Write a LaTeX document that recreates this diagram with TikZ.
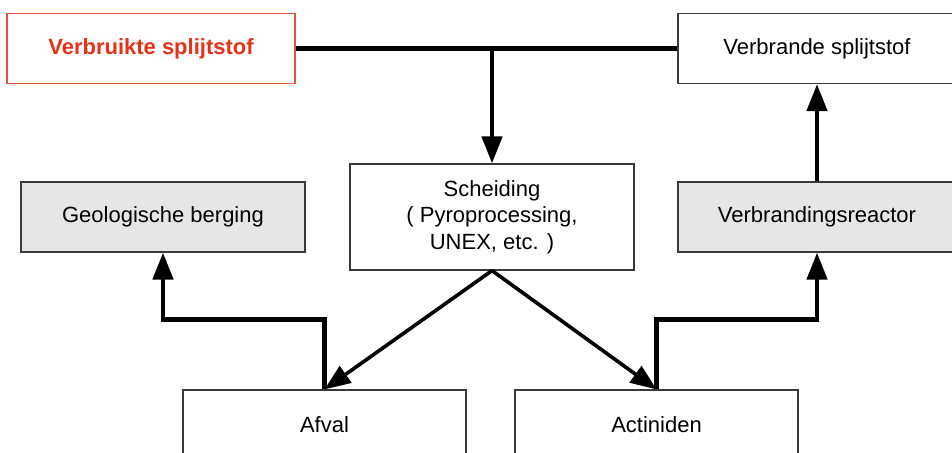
\documentclass[tikz,border=0pt]{standalone}
\usepackage{fontspec}
\setmainfont{Liberation Sans}
\usetikzlibrary{arrows.meta,positioning,calc}
\definecolor{ink}{HTML}{000000}
\definecolor{boxline}{HTML}{3A3A3A}
\definecolor{spentred}{HTML}{E5331A}
\definecolor{plantgray}{HTML}{E6E6E6}
\tikzset{
  stage/.style={draw=boxline,fill=white,line width=0.6pt,align=center,
                inner sep=2pt,font=\fontsize{11}{13.3}\selectfont,
                minimum width=142pt,minimum height=35pt},
  plant/.style={stage,fill=plantgray},
  spentbox/.style={stage,draw=spentred!85,text=spentred,
                   font=\fontsize{11}{13.3}\selectfont\bfseries},
  trunk/.style={line width=2.2pt,draw=ink},
  flow/.style={-{Triangle[length=13.5pt,width=10pt]},line width=2.2pt,
               draw=ink},
  splitflow/.style={-{Triangle[length=13pt,width=10pt]},line width=1.8pt,
                    draw=ink}
}

\begin{document}
\begin{tikzpicture}[x=0.5pt,y=-0.5pt]
    \useasboundingbox (0,0) rectangle (952,453);
    % top row
    \node[spentbox,minimum width=144pt] (spent) at (151,48.5) {Verbruikte splijtstof};
    \node[stage,minimum width=139pt] (burnt) at (817,48.5) {Verbrande splijtstof};
    % middle row
    \node[plant] (geo) at (163,217) {Geologische berging};
    \node[stage,minimum height=53pt] (sep) at (492,217)
      {Scheiding\\( Pyroprocessing,\\UNEX, etc. )};
    \node[plant,minimum width=139pt] (reactor) at (817,217) {Verbrandingsreactor};
    % bottom row
    \node[stage,minimum width=141.5pt] (waste) at (324.5,425) {Afval};
    \node[stage,minimum width=141.5pt] (act) at (656.5,425) {Actiniden};

    \coordinate (fork) at (sep.north |- spent.east);
    \draw[trunk] (spent.east) -- (burnt.west);
    \draw[flow] (fork) -- (sep.north);
    \draw[splitflow] (sep.south) -- (waste.north);
    \draw[splitflow] (sep.south) -- (act.north);
    \draw[flow] (waste.north) -- ++(0,-70) -| (geo.south);
    \draw[flow] (act.north) -- ++(0,-70) -| (reactor.south);
    \draw[flow] (reactor.north) -- (burnt.south);
\end{tikzpicture}
\end{document}
